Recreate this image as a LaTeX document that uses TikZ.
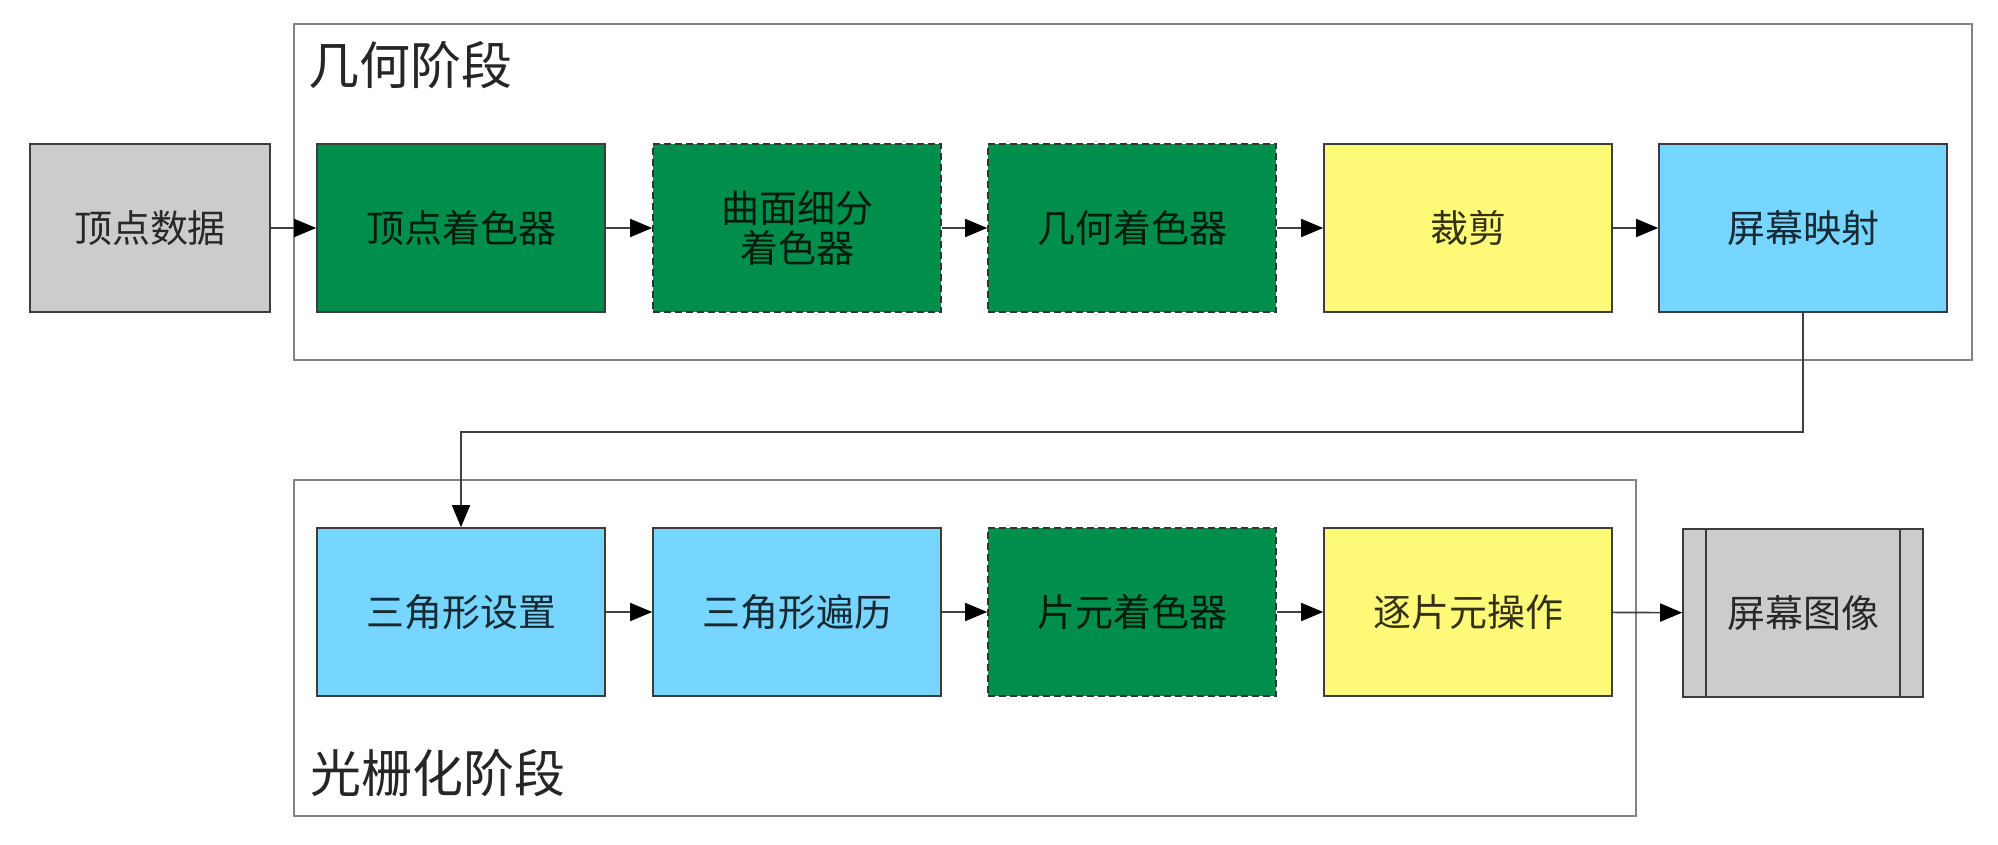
\documentclass[tikz,border=0pt]{standalone}
\usepackage{fontspec}
\setmainfont{Noto Sans CJK SC}
\usetikzlibrary{arrows.meta}
\definecolor{cgreen}{RGB}{0,142,76}
\definecolor{cyellow}{RGB}{255,250,120}
\definecolor{cblue}{RGB}{119,214,255}
\definecolor{cgray}{RGB}{204,204,204}
\definecolor{cframe}{RGB}{130,130,130}
\definecolor{cborder}{RGB}{60,60,60}
\tikzset{
  x=1pt, y=-1pt,
  box/.style={draw=cborder, line width=1.6pt, rectangle, minimum width=288pt, minimum height=168pt,
    inner sep=0pt, align=center, text opacity=0.8, font=\fontsize{38}{40}\selectfont},
  gbox/.style={box, fill=cgreen},
  dgbox/.style={box, fill=cgreen, draw=black!80, dash pattern=on 7pt off 4pt},
  ybox/.style={box, fill=cyellow},
  bbox/.style={box, fill=cblue},
  graybox/.style={box, fill=cgray, minimum width=240pt},
  frame/.style={draw=cframe, line width=2.4pt},
  title/.style={anchor=west, inner sep=0pt, text=black!85, font=\fontsize{51}{52}\selectfont},
  conn/.style={draw=black!75, line width=1.6pt, -{Triangle[length=22pt,width=18pt,color=black]}}
}
\begin{document}
\begin{tikzpicture}
\useasboundingbox[fill=white] (0,0) rectangle (1998,844);
% frames
\draw[frame] (294,24) rectangle (1972,360);
\draw[frame] (294,480) rectangle (1636,816);
\node[title] (t1) at (308,65) {几何阶段};
\node[title] (t2) at (310,773) {光栅化阶段};
% row 1
\node[graybox] (vd) at (150,228) {顶点数据};
\node[gbox] (vs) at (461,228) {顶点着色器};
\node[dgbox] (ts) at (797,228) {曲面细分\\着色器};
\node[dgbox] (gs) at (1132,228) {几何着色器};
\node[ybox] (cl) at (1468,228) {裁剪};
\node[bbox] (sm) at (1803,228) {屏幕映射};
% row 2
\node[bbox] (tsu) at (461,612) {三角形设置};
\node[bbox] (ttr) at (797,612) {三角形遍历};
\node[dgbox] (fs) at (1132,612) {片元着色器};
\node[ybox] (pf) at (1468,612) {逐片元操作};
\node[graybox] (si) at (1803,613) {屏幕图像};
\draw[cborder, line width=1.6pt] ([xshift=24pt]si.north west) -- ([xshift=24pt]si.south west);
\draw[cborder, line width=1.6pt] ([xshift=-24pt]si.north east) -- ([xshift=-24pt]si.south east);
% connectors
\draw[conn] (vd) -- (vs);
\draw[conn] (vs) -- (ts);
\draw[conn] (ts) -- (gs);
\draw[conn] (gs) -- (cl);
\draw[conn] (cl) -- (sm);
\coordinate (k1) at (1803,432);
\coordinate (k2) at (461,432);
\draw[conn] (sm.south) -- (k1) -- (k2) -- (tsu.north);
\draw[conn] (tsu) -- (ttr);
\draw[conn] (ttr) -- (fs);
\draw[conn] (fs) -- (pf);
\draw[conn] (pf) -- (si);
\end{tikzpicture}
\end{document}
